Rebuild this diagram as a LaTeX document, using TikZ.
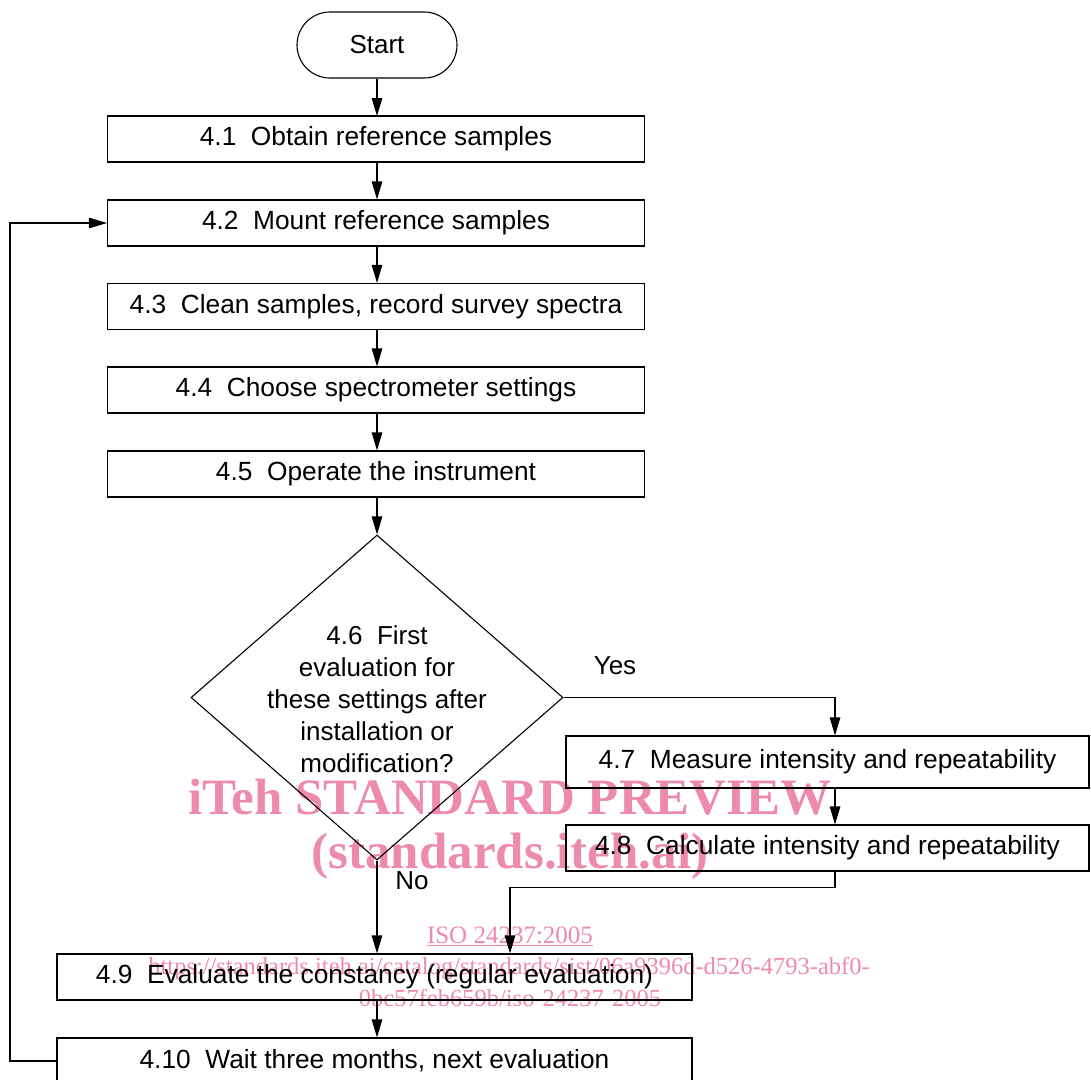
\documentclass[tikz,border=0pt]{standalone}
\usepackage{fontspec}
\setmainfont{Liberation Sans}
\newfontfamily\wmfont{Liberation Serif}
\usetikzlibrary{arrows.meta,shapes.geometric,calc}
\definecolor{wmpink}{RGB}{237,140,170}
\begin{document}
\begin{tikzpicture}[x=1pt,y=-1pt,
  proc/.style={draw,line width=1.1pt,rectangle,minimum height=46pt,inner sep=0pt,font=\fontsize{26.3}{30}\selectfont},
  arr/.style={draw,line width=1.1pt,-{Triangle[length=18pt,width=10.5pt]}},
  lbl/.style={font=\fontsize{26}{30}\selectfont,inner sep=0pt},
  wm/.style={text=wmpink,inner sep=0pt}]
\useasboundingbox (0,0) rectangle (1091,1079);
% watermark (behind)
\node[wm,font=\wmfont\bfseries\fontsize{51}{56}\selectfont] (wm1) at (510,797) {iTeh STANDARD PREVIEW};
\node[wm,font=\wmfont\bfseries\fontsize{51}{56}\selectfont] (wm2) at (510,856) {(standards.iteh.ai)};
\node[wm,font=\wmfont\fontsize{25}{28}\selectfont] (wm3) at (510,936) {\underline{ISO 24237:2005}};
\node[wm,font=\wmfont\fontsize{24.5}{28}\selectfont] (wm4) at (509,969) {https://standards.iteh.ai/catalog/standards/sist/06a9396d-d526-4793-abf0-};
\node[wm,font=\wmfont\fontsize{24.5}{28}\selectfont] (wm5) at (510,998) {0bc57feb659b/iso-24237-2005};
% nodes
\node[draw,line width=1.1pt,rectangle,rounded corners=33pt,minimum width=160pt,minimum height=66pt,inner sep=0pt,font=\fontsize{26}{30}\selectfont] (start) at (377,45) {Start};
\node[proc,minimum width=537pt] (b1) at (376,139) {4.1\ \ Obtain reference samples};
\node[proc,minimum width=537pt] (b2) at (376,223) {4.2\ \ Mount reference samples};
\node[proc,minimum width=537pt] (b3) at (376,306.5) {4.3\ \ Clean samples, record survey spectra};
\node[proc,minimum width=537pt] (b4) at (376,390) {4.4\ \ Choose spectrometer settings};
\node[proc,minimum width=537pt] (b5) at (376,474) {4.5\ \ Operate the instrument};
\node[draw,line width=1.1pt,diamond,minimum width=372pt,minimum height=325pt,inner sep=0pt] (dia) at (377,697.5) {};
\node[lbl,align=center,font=\fontsize{26}{32}\selectfont] (dtext) at (377,699) {4.6\ \ First\\evaluation for\\these settings after\\installation or\\modification?};
\node[proc,minimum width=523pt,minimum height=52pt] (b7) at (827.5,762) {4.7\ \ Measure intensity and repeatability};
\node[proc,minimum width=523pt] (b8) at (827.5,848) {4.8\ \ Calculate intensity and repeatability};
\node[proc,minimum width=635pt] (b9) at (374.5,977) {4.9\ \ Evaluate the constancy (regular evaluation)};
\node[proc,minimum width=635pt] (b10) at (374.5,1061) {4.10\ \ Wait three months, next evaluation};
\node[lbl] (yes) at (615,666) {Yes};
\node[lbl] (no) at (412,881) {No};
\coordinate (loop) at (10,0);
% connectors
\draw[arr] (start.south -| 377,0) -- (377,116);
\draw[arr] (b1.south -| 377,0) -- (b2.north -| 377,0);
\draw[arr] (b2.south -| 377,0) -- (b3.north -| 377,0);
\draw[arr] (b3.south -| 377,0) -- (b4.north -| 377,0);
\draw[arr] (b4.south -| 377,0) -- (b5.north -| 377,0);
\draw[arr] (b5.south -| 377,0) -- (dia.north);
\draw[arr] (dia.east) -| ([xshift=7.5pt]b7.north);
\draw[arr] ([xshift=7.5pt]b7.south) -- ([xshift=7.5pt]b8.north);
\draw[arr] ([xshift=7.5pt]b8.south) -- ++(0,16) -| ([xshift=135.5pt]b9.north);
\draw[arr] (dia.south) -- (dia.south |- b9.north);
\draw[arr] (b9.south -| 377,0) -- (b10.north -| 377,0);
\draw[arr] (b10.west) -- (b10.west -| loop) |- (b2.west);
\end{tikzpicture}
\end{document}
